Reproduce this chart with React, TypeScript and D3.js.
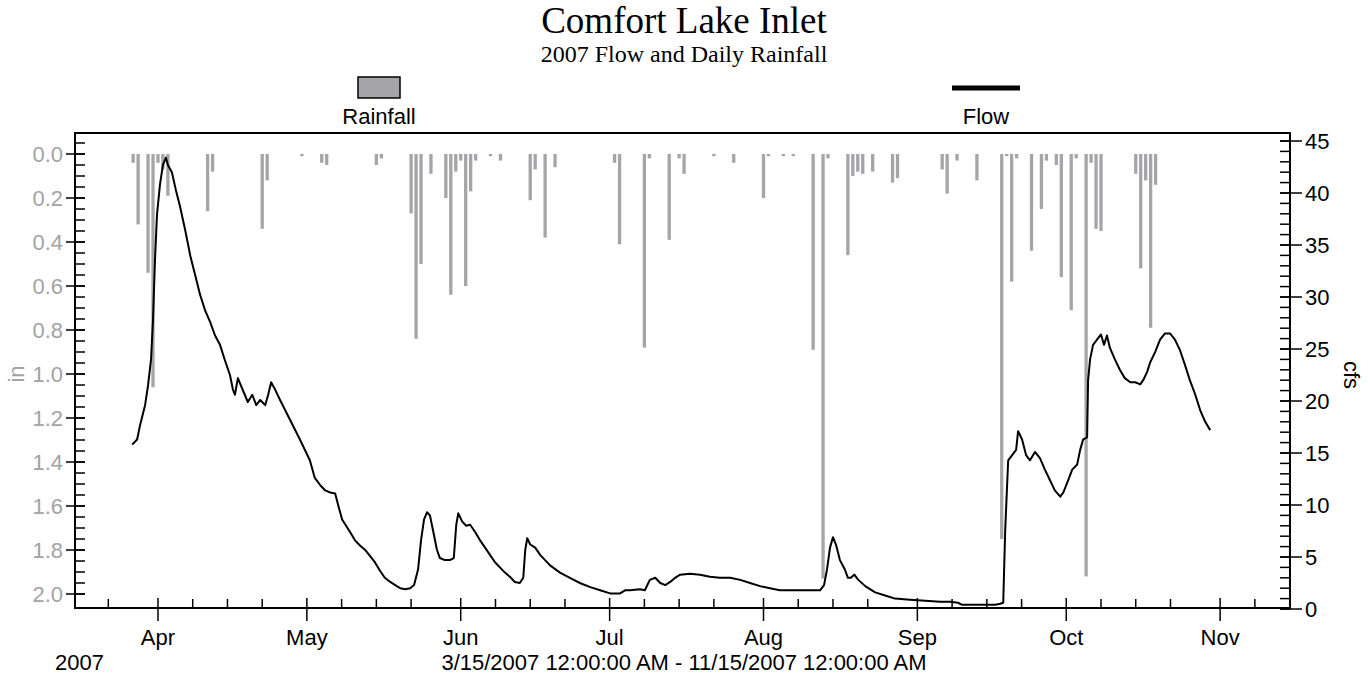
import React from "react";
import * as d3 from "d3";

// ---- Data ----
const rainDates = [
  "2007-03-27","2007-03-28","2007-03-30","2007-03-31","2007-04-01","2007-04-02","2007-04-03",
  "2007-04-11","2007-04-12","2007-04-22","2007-04-23","2007-04-30","2007-05-04","2007-05-05",
  "2007-05-15","2007-05-16","2007-05-22","2007-05-23","2007-05-24","2007-05-26","2007-05-29",
  "2007-05-30","2007-05-31","2007-06-01","2007-06-02","2007-06-03","2007-06-04","2007-06-07",
  "2007-06-09","2007-06-15","2007-06-16","2007-06-18","2007-06-20","2007-07-02","2007-07-03",
  "2007-07-08","2007-07-09","2007-07-13","2007-07-15","2007-07-16","2007-07-22","2007-07-26",
  "2007-08-01","2007-08-02","2007-08-05","2007-08-07","2007-08-11","2007-08-13","2007-08-14",
  "2007-08-18","2007-08-19","2007-08-20","2007-08-21","2007-08-23","2007-08-27","2007-08-28",
  "2007-09-06","2007-09-07","2007-09-09","2007-09-13","2007-09-18","2007-09-19","2007-09-20",
  "2007-09-21","2007-09-24","2007-09-26","2007-09-27","2007-09-29","2007-09-30","2007-10-02",
  "2007-10-03","2007-10-05","2007-10-06","2007-10-07","2007-10-08","2007-10-15","2007-10-16",
  "2007-10-17","2007-10-18","2007-10-19"
];
const rainInches = [
  0.04,0.32,0.54,1.06,0.04,0.07,0.19,
  0.26,0.08,0.34,0.12,0.01,0.04,0.05,
  0.05,0.02,0.27,0.84,0.50,0.09,0.20,
  0.64,0.08,0.03,0.60,0.17,0.03,0.01,
  0.03,0.21,0.07,0.38,0.06,0.04,0.41,
  0.88,0.02,0.39,0.02,0.09,0.01,0.04,
  0.20,0.01,0.01,0.01,0.89,1.93,0.02,
  0.46,0.10,0.08,0.09,0.08,0.13,0.11,
  0.07,0.18,0.03,0.12,1.75,0.01,0.58,
  0.02,0.44,0.25,0.03,0.05,0.56,0.71,
  0.02,1.92,0.04,0.34,0.35,0.09,0.52,
  0.12,0.79,0.14
];

// days since 3/15/2007 00:00
const flowDays = [
  11.8,12.8,13.4,14.4,15.0,15.6,16.0,16.4,16.8,17.4,18.0,18.6,19.0,19.8,20.6,21.4,22.5,23.5,24.5,25.5,
  26.5,27.5,28.5,29.5,30.5,31.5,32.1,32.5,33.1,33.7,34.5,35.1,36.0,36.8,37.6,38.6,39.2,39.8,40.6,41.6,
  43.6,45.6,47.6,48.6,49.7,50.7,51.7,52.7,53.3,54.1,55.7,56.7,57.7,58.7,59.7,60.7,61.7,62.7,63.8,64.8,
  65.8,66.8,67.8,68.6,69.4,70.0,70.6,71.2,71.8,72.4,73.2,73.8,74.8,75.8,76.6,77.1,77.5,78.3,79.1,79.9,
  80.9,81.9,82.9,83.9,84.9,85.9,86.9,87.9,88.9,89.9,90.6,91.0,91.4,92.0,93.0,94.0,95.0,96.0,98.0,100.0,
  102.0,104.1,106.1,108.1,110.1,111.1,112.1,114.1,115.1,116.1,117.2,118.2,119.2,120.2,121.2,122.2,124.2,126.2,128.2,130.2,
  132.3,134.3,136.3,138.3,140.3,142.3,144.4,146.4,148.8,150.4,151.2,151.8,152.4,153.0,153.6,154.4,155.4,156.0,156.6,157.3,
  158.1,159.5,161.5,163.5,165.5,168.5,171.6,174.6,176.6,178.2,179.0,182.6,185.7,186.7,187.3,187.7,188.3,189.1,189.9,190.3,
  191.1,191.9,192.7,193.7,194.7,195.7,196.7,197.7,198.8,199.4,200.4,201.2,202.2,202.8,203.4,204.2,204.4,204.8,205.4,206.2,
  207.0,207.6,208.2,208.8,209.8,210.8,211.8,212.9,213.9,214.9,215.5,216.3,216.9,217.9,218.9,219.9,220.9,221.9,222.9,223.9,
  224.9,226.0,227.0,228.0,229.0
];
const flowCfs = [
  15.8,16.3,17.7,19.6,21.5,24.0,27.8,33.6,37.9,40.8,42.7,43.4,42.7,42.0,40.3,38.8,36.4,34.0,32.1,30.2,
  28.7,27.6,26.3,25.4,23.9,22.5,21.1,20.6,22.2,21.5,20.6,19.9,20.6,19.6,20.1,19.6,20.6,21.8,21.1,20.1,
  18.2,16.3,14.3,12.6,11.9,11.4,11.2,11.1,10.0,8.6,7.4,6.6,6.1,5.7,5.1,4.5,3.7,3.0,2.6,2.3,
  2.0,1.9,2.0,2.3,3.8,6.6,8.6,9.3,9.0,7.6,5.7,4.9,4.7,4.7,4.9,8.1,9.2,8.4,8.0,8.1,
  7.4,6.6,5.9,5.2,4.5,4.0,3.5,3.1,2.6,2.5,3.0,5.7,6.8,6.2,5.9,5.2,4.7,4.2,3.5,3.0,
  2.5,2.1,1.8,1.5,1.5,1.8,1.8,1.9,1.8,2.8,3.0,2.5,2.3,2.6,3.0,3.3,3.4,3.3,3.1,3.0,
  3.0,2.8,2.5,2.2,2.0,1.8,1.8,1.8,1.8,1.8,2.3,3.8,5.9,6.9,6.2,4.7,3.8,3.0,3.0,3.3,
  2.8,2.2,1.6,1.3,1.0,0.9,0.8,0.7,0.7,0.6,0.4,0.4,0.4,0.5,0.6,7.6,14.3,14.8,15.3,17.1,
  16.3,14.8,14.3,15.1,14.5,13.4,12.4,11.4,10.8,11.2,12.4,13.4,13.9,15.3,16.3,16.5,22.0,24.0,25.4,25.9,
  26.4,25.4,26.3,25.1,24.0,23.0,22.2,21.8,21.8,21.6,22.0,22.8,23.7,24.7,25.9,26.5,26.5,25.9,24.9,23.5,
  22.0,20.6,19.1,18.0,17.2
];

const rainTicks = [0, 0.2, 0.4, 0.6, 0.8, 1.0, 1.2, 1.4, 1.6, 1.8, 2.0];
const flowTicks = [0, 5, 10, 15, 20, 25, 30, 35, 40, 45];
const minorDaysOfMonth = [8, 15, 22];

const TITLE = "Comfort Lake Inlet";
const SUBTITLE = "2007 Flow and Daily Rainfall";
const RANGE_TEXT = "3/15/2007 12:00:00 AM - 11/15/2007 12:00:00 AM";
const YEAR_TEXT = "2007";

export default function App() {
  const W = 1372, H = 679;
  const left = 75, right = 1290, top = 133, bottom = 608;
  const t0 = Date.UTC(2007, 2, 15);
  const t1 = Date.UTC(2007, 10, 15);
  const DAY = 86400000;

  const x = d3.scaleUtc().domain([new Date(t0), new Date(t1)]).range([73.6, 1289.6]);
  const yRain = d3.scaleLinear().domain([0, 2]).range([154, 594]);
  const yFlow = d3.scaleLinear().domain([0, 45]).range([609, 141]);

  const sans = "'Liberation Sans', Arial, Helvetica, sans-serif";
  const serif = "'Liberation Serif', 'Times New Roman', serif";
  const rainColor = "#a5a5a9";
  const axisGray = "#a3a3a3";

  const months = d3.utcMonth.range(new Date(Date.UTC(2007, 3, 1)), new Date(Date.UTC(2007, 10, 2)));
  const minorX: Date[] = [];
  d3.utcMonth.range(new Date(Date.UTC(2007, 2, 1)), new Date(Date.UTC(2007, 11, 1))).forEach((m) => {
    minorDaysOfMonth.forEach((dd) => {
      const d = new Date(Date.UTC(m.getUTCFullYear(), m.getUTCMonth(), dd));
      if (+d > t0 && +d < t1) minorX.push(d);
    });
  });
  const fmt = d3.utcFormat("%b");

  const rainMinor = d3.range(-0.05, 2.0001, 0.05);
  const flowMinor = d3.range(0, 46, 1);

  const flowPts: [number, number][] = flowDays.map((d, i) => [x(new Date(t0 + d * DAY)), yFlow(flowCfs[i])]);
  const line = d3.line().curve(d3.curveLinear);
  const barW = 3.3;

  return (
    <div style={{ position: "absolute", left: 0, top: 0 }}>
      <svg width={W} height={H} viewBox={`0 0 ${W} ${H}`} style={{ display: "block", background: "#fff" }}>
        <defs>
          <clipPath id="plot">
            <rect x={left} y={top} width={right - left} height={bottom - top} />
          </clipPath>
        </defs>

        {/* Titles */}
        <text x={684} y={33} textAnchor="middle" fontFamily={serif} fontSize={37} fill="#000">{TITLE}</text>
        <text x={684} y={62} textAnchor="middle" fontFamily={serif} fontSize={24} fill="#000">{SUBTITLE}</text>

        {/* Legend */}
        <rect x={358} y={77} width={42} height={21} fill={rainColor} stroke="#000" strokeWidth={1.5} />
        <text x={379} y={124} textAnchor="middle" fontFamily={sans} fontSize={22} fill="#000">Rainfall</text>
        <line x1={952} x2={1020} y1={88} y2={88} stroke="#000" strokeWidth={5} />
        <text x={986} y={124} textAnchor="middle" fontFamily={sans} fontSize={22} fill="#000">Flow</text>

        {/* Rain bars */}
        <g clipPath="url(#plot)">
          {rainDates.map((ds, i) => {
            const d = new Date(ds + "T00:00:00Z");
            const cx = x(d);
            return (
              <rect key={ds} x={cx - barW / 2} y={yRain(0)} width={barW}
                height={Math.max(yRain(rainInches[i]) - yRain(0), 2)} fill={rainColor} />
            );
          })}
          <path d={line(flowPts) || ""} fill="none" stroke="#000" strokeWidth={2} strokeLinejoin="round" />
        </g>

        {/* Frame */}
        <rect x={left} y={top} width={right - left} height={bottom - top} fill="none" stroke="#000" strokeWidth={2} />

        {/* Left axis (rain) */}
        {rainMinor.map((v, i) => (
          <line key={"lm" + i} x1={left} x2={left + 10} y1={yRain(v)} y2={yRain(v)} stroke="#000" strokeWidth={1.5} />
        ))}
        {rainTicks.map((v) => (
          <g key={"lt" + v}>
            <line x1={left - 9} x2={left + 10} y1={yRain(v)} y2={yRain(v)} stroke="#000" strokeWidth={1.5} />
            <text x={left - 12} y={yRain(v)} dy="0.36em" textAnchor="end" fontFamily={sans} fontSize={22} fill={axisGray}>
              {v.toFixed(1)}
            </text>
          </g>
        ))}
        <text transform={`translate(16,${yRain(1.0)}) rotate(-90)`} textAnchor="middle" dy="0.36em"
          fontFamily={sans} fontSize={22} fill={axisGray}>in</text>

        {/* Right axis (flow) */}
        {flowMinor.map((v) => (
          <line key={"rm" + v} x1={right - 10} x2={right} y1={yFlow(v)} y2={yFlow(v)} stroke="#000" strokeWidth={1.5} />
        ))}
        {flowTicks.map((v) => (
          <g key={"rt" + v}>
            <line x1={right - 10} x2={right + 12} y1={yFlow(v)} y2={yFlow(v)} stroke="#000" strokeWidth={1.5} />
            <text x={right + 15} y={yFlow(v)} dy="0.36em" textAnchor="start" fontFamily={sans} fontSize={22} fill="#000">
              {v}
            </text>
          </g>
        ))}
        <text transform={`translate(1352,${yFlow(22.5)}) rotate(90)`} textAnchor="middle" dy="0.36em"
          fontFamily={sans} fontSize={22} fill="#000">cfs</text>

        {/* Bottom axis (time) */}
        {minorX.map((d, i) => (
          <line key={"bm" + i} x1={x(d)} x2={x(d)} y1={bottom - 9} y2={bottom} stroke="#000" strokeWidth={1.5} />
        ))}
        {months.map((d, i) => (
          <g key={"bt" + i}>
            <line x1={x(d)} x2={x(d)} y1={bottom - 10} y2={bottom + 13} stroke="#000" strokeWidth={1.5} />
            <text x={x(d)} y={645} textAnchor="middle" fontFamily={sans} fontSize={22} fill="#000">{fmt(d)}</text>
          </g>
        ))}
        <text x={55} y={670} textAnchor="start" fontFamily={sans} fontSize={22} fill="#000">{YEAR_TEXT}</text>
        <text x={684} y={670} textAnchor="middle" fontFamily={sans} fontSize={22} fill="#000">{RANGE_TEXT}</text>
      </svg>
    </div>
  );
}
